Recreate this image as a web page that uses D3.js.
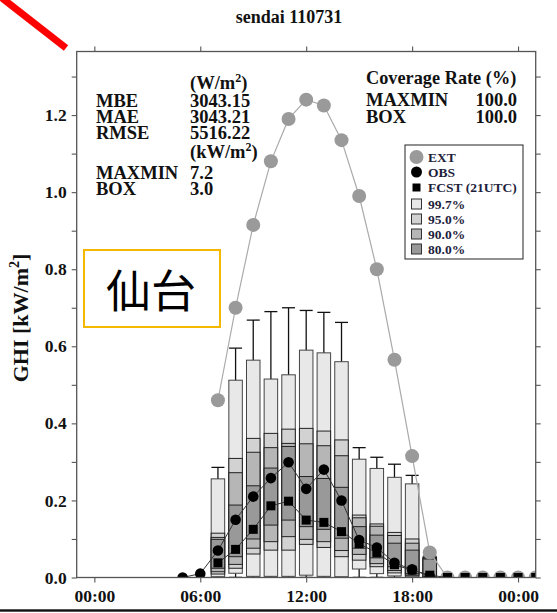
<!DOCTYPE html>
<html>
<head>
<meta charset="utf-8">
<script src="https://cdn.jsdelivr.net/npm/d3@7"></script>
<style>
body { margin: 0; background: #fff; }
text { font-family: "Liberation Serif", "Times New Roman", serif; font-weight: bold; fill: #111; }
</style>
</head>
<body>
<div class="chart"></div>
<script>
// DATA ------------------------------------
const extHours  = [7, 8, 9, 10, 11, 12, 13, 14, 15, 16, 17, 18, 19, 20, 21, 22, 23, 24, 25];
const extValues = [0.46, 0.70, 0.915, 1.08, 1.19, 1.24, 1.225, 1.135, 0.99, 0.80, 0.565, 0.315, 0.065, 0, 0, 0, 0, 0, 0];

const obsHours  = [5, 6, 7, 8, 9, 10, 11, 12, 13, 14, 15, 16, 17, 18, 19];
const obsValues = [0.0, 0.01, 0.07, 0.15, 0.21, 0.258, 0.299, 0.23, 0.28, 0.20, 0.097, 0.078, 0.038, 0.021, 0.003];

const fcstHours  = [7, 8, 9, 10, 11, 12, 13, 14, 15, 16, 17, 18, 19, 20, 21, 22, 23, 24, 25];
const fcstValues = [0.038, 0.073, 0.125, 0.186, 0.198, 0.149, 0.143, 0.119, 0.088, 0.064, 0.033, 0.019, 0.006, 0, 0, 0, 0, 0, 0];

// ensemble spread per hour
const boxHours = [7, 8, 9, 10, 11, 12, 13, 14, 15, 16, 17, 18, 19];
const boxMax   = [0.286, 0.595, 0.668, 0.690, 0.700, 0.693, 0.688, 0.662, 0.337, 0.312, 0.294, 0.265, 0.056];
const p997Hi   = [0.256, 0.512, 0.564, 0.515, 0.526, 0.590, 0.583, 0.560, 0.307, 0.283, 0.260, 0.243, 0.054];
const p95Hi    = [0.115, 0.309, 0.361, 0.374, 0.385, 0.387, 0.380, 0.357, 0.162, 0.139, 0.117, 0.100, 0.052];
const p90Hi    = [0.104, 0.272, 0.325, 0.337, 0.348, 0.347, 0.342, 0.316, 0.155, 0.133, 0.109, 0.089, 0.050];
const p80Hi    = [0.099, 0.188, 0.238, 0.284, 0.340, 0.262, 0.257, 0.234, 0.132, 0.110, 0.089, 0.071, 0.048];
const p80Lo    = [0.024, 0.054, 0.100, 0.136, 0.149, 0.132, 0.125, 0.102, 0.076, 0.051, 0.028, 0.010, 0.002];
const p90Lo    = [0.015, 0.034, 0.076, 0.093, 0.106, 0.099, 0.093, 0.070, 0.060, 0.036, 0.018, 0.006, 0.001];
const p95Lo    = [0.009, 0.024, 0.061, 0.071, 0.071, 0.086, 0.078, 0.054, 0.045, 0.028, 0.012, 0.004, 0.0];
const p997Lo   = [0.002, 0.011, 0.003, 0.003, 0.003, 0.006, 0.003, 0.002, 0.022, 0.010, 0.004, 0.001, 0.0];
const boxMin   = [0, 0, 0, 0, 0, 0, 0, 0, 0, 0, 0, 0, 0];

const xTickHours  = [0, 6, 12, 18, 24];
const xTickLabels = ["00:00", "06:00", "12:00", "18:00", "00:00"];
const yTicks      = [0, 0.1, 0.2, 0.3, 0.4, 0.5, 0.6, 0.7, 0.8, 0.9, 1.0, 1.1, 1.2, 1.3];
const yTickLabels = ["0.0", "", "0.2", "", "0.4", "", "0.6", "", "0.8", "", "1.0", "", "1.2", ""];

const statNames  = ["MBE", "MAE", "RMSE"];
const statValues = ["3043.15", "3043.21", "5516.22"];
const kwNames    = ["MAXMIN", "BOX"];
const kwValues   = ["7.2", "3.0"];
const covNames   = ["MAXMIN", "BOX"];
const covValues  = ["100.0", "100.0"];

const legendLabels = ["EXT", "OBS", "FCST (21UTC)", "99.7%", "95.0%", "90.0%", "80.0%"];

// CHART INIT ------------------------------
var margin = {top: 51.5, right: 21.3, bottom: 35.5, left: 76.7};
var width = 557 - margin.left - margin.right,
    height = 613 - margin.top - margin.bottom;

const root = d3.select(".chart").append("svg")
    .attr("width", 557)
    .attr("height", 613);

const svg = root.append("g")
    .attr("transform", "translate(" + margin.left + "," + margin.top + ")");

const x = d3.scaleLinear().domain([-1, 25]).range([0, width]);
const y = d3.scaleLinear().domain([0, 1.365]).range([height, 0]);

root.append("defs").append("clipPath").attr("id", "plot")
  .append("rect").attr("width", width).attr("height", height);

const plot = svg.append("g").attr("clip-path", "url(#plot)");

const levels = [
  {hi: p997Hi, lo: p997Lo, fill: "#e8e8e8", stroke: "#444"},
  {hi: p95Hi,  lo: p95Lo,  fill: "#d2d2d2", stroke: "#222"},
  {hi: p90Hi,  lo: p90Lo,  fill: "#b6b6b6", stroke: "#222"},
  {hi: p80Hi,  lo: p80Lo,  fill: "#999999", stroke: "#222"}
];

const boxW = 13.5, capW = 13;

// whiskers
boxHours.forEach((h, i) => {
  const cx = x(h);
  plot.append("line").attr("x1", cx).attr("x2", cx)
      .attr("y1", y(boxMin[i])).attr("y2", y(boxMax[i]))
      .attr("stroke", "#111").attr("stroke-width", 1.3);
  [boxMax[i], boxMin[i]].forEach(v => {
    plot.append("line").attr("x1", cx - capW / 2).attr("x2", cx + capW / 2)
        .attr("y1", y(v)).attr("y2", y(v))
        .attr("stroke", "#111").attr("stroke-width", 1.3);
  });
});

// nested boxes
levels.forEach(lv => {
  plot.selectAll(null)
    .data(boxHours)
    .enter()
    .append("rect")
    .attr("x", d => x(d) - boxW / 2)
    .attr("y", (d, i) => y(lv.hi[i]))
    .attr("width", boxW)
    .attr("height", (d, i) => y(lv.lo[i]) - y(lv.hi[i]))
    .attr("fill", lv.fill)
    .attr("stroke", lv.stroke)
    .attr("stroke-width", 1);
});

// EXT
const ext = extHours.map((h, i) => [h, extValues[i]]);
plot.append("path").datum(ext)
    .attr("d", d3.line().x(d => x(d[0])).y(d => y(d[1])))
    .attr("fill", "none").attr("stroke", "#aaa").attr("stroke-width", 1.2);
plot.selectAll(".ext").data(ext).enter().append("circle")
    .attr("cx", d => x(d[0])).attr("cy", d => y(d[1])).attr("r", 7)
    .attr("fill", "#9a9a9a");

// OBS
const obs = obsHours.map((h, i) => [h, obsValues[i]]);
plot.append("path").datum(obs)
    .attr("d", d3.line().x(d => x(d[0])).y(d => y(d[1])))
    .attr("fill", "none").attr("stroke", "#333").attr("stroke-width", 1);
plot.selectAll(".obs").data(obs).enter().append("circle")
    .attr("cx", d => x(d[0])).attr("cy", d => y(d[1])).attr("r", 5.3)
    .attr("fill", "#000");

// FCST
const fcst = fcstHours.map((h, i) => [h, fcstValues[i]]);
plot.append("path").datum(fcst)
    .attr("d", d3.line().x(d => x(d[0])).y(d => y(d[1])))
    .attr("fill", "none").attr("stroke", "#333").attr("stroke-width", 1);
plot.selectAll(".fcst").data(fcst).enter().append("rect")
    .attr("x", d => x(d[0]) - 4.5).attr("y", d => y(d[1]) - 4.5)
    .attr("width", 9).attr("height", 9)
    .attr("fill", "#000");

// AXES ------------------------------------
function styleAxis(g) {
  g.select(".domain").remove();
  g.attr("font-family", null).attr("font-size", null);
  g.selectAll(".tick line").attr("stroke", "#555").attr("stroke-width", 1.1);
  g.selectAll(".tick text").attr("fill", "#111").style("font-size", "17.5px");
}

svg.append("g")
    .attr("transform", "translate(0," + height + ")")
    .call(d3.axisBottom(x).tickValues(xTickHours).tickFormat((d, i) => xTickLabels[i]).tickSize(5).tickPadding(7))
    .call(styleAxis);
svg.append("g")
    .call(d3.axisTop(x).tickValues(xTickHours).tickFormat("").tickSize(5))
    .call(styleAxis);
svg.append("g")
    .call(d3.axisLeft(y).tickValues(yTicks).tickFormat((d, i) => yTickLabels[i]).tickSize(5).tickPadding(5))
    .call(styleAxis);
svg.append("g")
    .attr("transform", "translate(" + width + ",0)")
    .call(d3.axisRight(y).tickValues(yTicks).tickFormat("").tickSize(5))
    .call(styleAxis);

svg.append("rect")
    .attr("width", width).attr("height", height)
    .attr("fill", "none").attr("stroke", "#555").attr("stroke-width", 1.3);

svg.append("text")
    .attr("transform", "translate(-49," + (318 - margin.top) + ") rotate(-90)")
    .attr("text-anchor", "middle")
    .style("font-size", "22px")
    .text("GHI [kW/m")
  .append("tspan").attr("dy", -9).style("font-size", "14px").text("2")
  .select(function() { return this.parentNode; })
  .append("tspan").attr("dy", 9).text("]");

// TEXT BLOCKS -----------------------------
root.append("text").attr("x", 289).attr("y", 23)
    .attr("text-anchor", "middle").style("font-size", "18px")
    .text("sendai 110731");

const fs = "18.5px";

function unitText(xp, yp, unit) {
  const t = root.append("text").attr("x", xp).attr("y", yp).style("font-size", fs);
  t.append("tspan").text("(" + unit);
  t.append("tspan").attr("dy", -7).style("font-size", "12px").text("2");
  t.append("tspan").attr("dy", 7).text(")");
}

unitText(190, 89, "W/m");
statNames.forEach((s, i) => {
  root.append("text").attr("x", 96).attr("y", 106.5 + i * 16).style("font-size", fs).text(s);
  root.append("text").attr("x", 190).attr("y", 106.5 + i * 16).style("font-size", fs).text(statValues[i]);
});
unitText(190, 158, "kW/m");
kwNames.forEach((s, i) => {
  root.append("text").attr("x", 96).attr("y", 178.5 + i * 16).style("font-size", fs).text(s);
  root.append("text").attr("x", 190).attr("y", 178.5 + i * 16).style("font-size", fs).text(kwValues[i]);
});

root.append("text").attr("x", 366).attr("y", 84).style("font-size", "18.3px").text("Coverage Rate (%)");
covNames.forEach((s, i) => {
  root.append("text").attr("x", 366).attr("y", 106 + i * 17).style("font-size", fs).text(s);
  root.append("text").attr("x", 517).attr("y", 106 + i * 17).attr("text-anchor", "end")
      .style("font-size", fs).text(covValues[i]);
});

// LEGEND ----------------------------------
const lg = root.append("g");
lg.append("rect").attr("x", 405).attr("y", 145).attr("width", 118).attr("height", 114)
    .attr("fill", "#fff").attr("stroke", "#222").attr("stroke-width", 1);
const legY = [157, 172, 187.5, 204, 219, 234, 249];
legendLabels.forEach((lab, i) => {
  const cy = legY[i];
  if (i === 0) lg.append("circle").attr("cx", 416.5).attr("cy", cy).attr("r", 7).attr("fill", "#9a9a9a");
  else if (i === 1) lg.append("circle").attr("cx", 416.5).attr("cy", cy).attr("r", 5.5).attr("fill", "#000");
  else if (i === 2) lg.append("rect").attr("x", 412.5).attr("y", cy - 4).attr("width", 8).attr("height", 8).attr("fill", "#000");
  else lg.append("rect").attr("x", 411.5).attr("y", cy - 5).attr("width", 10).attr("height", 10)
        .attr("fill", levels[i - 3].fill).attr("stroke", "#333").attr("stroke-width", 1);
  lg.append("text").attr("x", 428).attr("y", cy + 4.5)
      .style("font-size", "13.5px").style("fill", "#1e1e3c").text(lab);
});

// DECORATIONS -----------------------------
root.append("line").attr("x1", 2).attr("y1", -2).attr("x2", 66).attr("y2", 48)
    .attr("stroke", "red").attr("stroke-width", 7);

root.append("rect").attr("x", 84).attr("y", 250).attr("width", 136).attr("height", 77)
    .attr("fill", "#fff").attr("stroke", "#f5b800").attr("stroke-width", 2);
root.append("text").attr("x", 151).attr("y", 308).attr("text-anchor", "middle")
    .style("font-family", "'Noto Sans CJK JP', 'Noto Sans CJK SC', sans-serif")
    .style("font-weight", "normal").style("font-size", "45px").style("fill", "#000")
    .text("仙台");

root.append("rect").attr("x", 0).attr("y", 609.3).attr("width", 557).attr("height", 2.4).attr("fill", "#111");
</script>
</body>
</html>
